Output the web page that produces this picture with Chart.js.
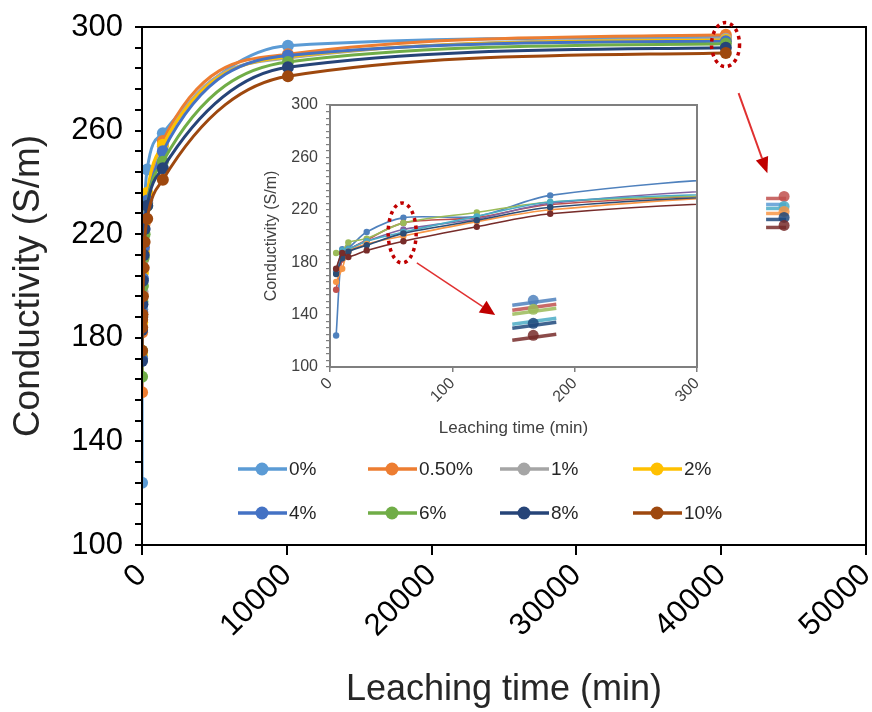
<!DOCTYPE html>
<html>
<head>
<meta charset="utf-8">
<script src="https://cdn.jsdelivr.net/npm/chart.js@4.4.1/dist/chart.umd.min.js"></script>
<style>
  html, body { margin: 0; padding: 0; background: #fff; }
  #wrap { position: relative; width: 872px; height: 712px; }
  #main { position: absolute; left: 0; top: 0; }
  #inset { position: absolute; left: 250px; top: 90px; }
</style>
</head>
<body>
<div id="wrap">
  <canvas id="main" width="872" height="712"></canvas>
  <canvas id="inset" width="460" height="355"></canvas>
</div>
<script>
// leaching time (min) and conductivity (S/m) per additive dose
var times = [5, 10, 15, 30, 60, 120, 180, 360, 1440, 10080, 40320];
var labels = ['0%', '0.50%', '1%', '2%', '4%', '6%', '8%', '10%'];
var s0   = [124, 190, 191, 203, 214, 215, 231, 245, 259, 292.8, 296];
var s05  = [159, 182, 189, 197, 210, 214, 224, 232, 256, 289.5, 297];
var s1   = [187, 188, 195, 198, 210, 218, 226, 232, 254, 288, 295.5];
var s2   = [173, 186, 190, 196, 205, 213, 225, 236, 254.5, 288.5, 295];
var s4   = [172, 189, 190, 196, 203, 215, 226, 233, 252, 289, 294.5];
var s6   = [165, 175, 188, 194, 200, 211, 220, 231, 248, 286.5, 293.5];
var s8   = [171, 183, 188, 193, 202, 212, 222, 231, 245.5, 284.5, 292];
var s10  = [175, 187, 184, 189, 196, 207, 217, 226, 241, 281, 290];
var allSeries = [s0, s05, s1, s2, s4, s6, s8, s10];

var mainColors  = ['#5B9BD5', '#ED7D31', '#A5A5A5', '#FFC000', '#4472C4', '#70AD47', '#264478', '#9E480E'];
var insetColors = ['#4F81BD', '#C0504D', '#9BBB59', '#8064A2', '#4BACC6', '#F79646', '#2C4D75', '#772C2A'];

var FONT = 'Liberation Sans, Arial, sans-serif';

function makeSets(colors, lw, r, tension, mode) {
  return allSeries.map(function(vals, k) {
    return {
      label: labels[k],
      data: times.map(function(t, i) { return {x: t, y: vals[i]}; }),
      borderColor: colors[k],
      backgroundColor: colors[k],
      pointBackgroundColor: colors[k],
      pointBorderWidth: 0,
      pointRadius: r,
      borderWidth: lw,
      tension: tension,
      cubicInterpolationMode: mode,
      order: 7 - k
    };
  });
}

function arrow(ctx, x1, y1, x2, y2, lineCol, headCol, lw, hl, hw) {
  var dx = x2 - x1, dy = y2 - y1, len = Math.sqrt(dx * dx + dy * dy);
  var ux = dx / len, uy = dy / len;
  var bx = x2 - ux * hl, by = y2 - uy * hl;
  ctx.save();
  ctx.strokeStyle = lineCol; ctx.lineWidth = lw;
  ctx.beginPath(); ctx.moveTo(x1, y1); ctx.lineTo(bx, by); ctx.stroke();
  ctx.fillStyle = headCol;
  ctx.beginPath();
  ctx.moveTo(x2, y2);
  ctx.lineTo(bx - uy * hw / 2, by + ux * hw / 2);
  ctx.lineTo(bx + uy * hw / 2, by - ux * hw / 2);
  ctx.closePath(); ctx.fill();
  ctx.restore();
}

function dottedEllipse(ctx, cx, cy, rx, ry) {
  ctx.save();
  ctx.strokeStyle = '#C00000'; ctx.lineWidth = 3.5;
  ctx.setLineDash([3.5, 4]);
  ctx.beginPath(); ctx.ellipse(cx, cy, rx, ry, 0, 0, Math.PI * 2); ctx.stroke();
  ctx.restore();
}

// small "magnified" snapshot: stubs of line + marker
function magnifier(ctx, x, y, rows, w, slope) {
  ctx.save();
  ctx.globalAlpha = 0.85;
  rows.forEach(function(r) {
    ctx.strokeStyle = r[0]; ctx.lineWidth = 3.5;
    ctx.beginPath(); ctx.moveTo(x, y + r[1] + slope); ctx.lineTo(x + w, y + r[1] - slope); ctx.stroke();
    if (r[2]) {
      ctx.fillStyle = r[0];
      ctx.beginPath(); ctx.arc(x + r[2], y + r[1] - 2, 5.5, 0, Math.PI * 2); ctx.fill();
    }
  });
  ctx.restore();
}

var mainDeco = {
  id: 'mainDeco',
  afterDatasetsDraw: function(chart) {
    var ctx = chart.ctx, a = chart.chartArea, xs = chart.scales.x, ys = chart.scales.y;
    ctx.save();
    ctx.strokeStyle = '#000'; ctx.lineWidth = 2;
    ctx.strokeRect(a.left, a.top, a.right - a.left, a.bottom - a.top);
    ctx.restore();

    dottedEllipse(ctx, xs.getPixelForValue(40300), ys.getPixelForValue(293.2), 14, 22);
    arrow(ctx, xs.getPixelForValue(41200), ys.getPixelForValue(274.5),
          xs.getPixelForValue(43190), ys.getPixelForValue(243.5), '#E03030', '#C00000', 2, 16, 13);
    magnifier(ctx, xs.getPixelForValue(43100), ys.getPixelForValue(236.5), [
      ['#C0504D', 7, 18], ['#5B9BD5', 13, 0], ['#4BACC6', 17, 18], ['#F79646', 22, 18],
      ['#1F497D', 28, 18], ['#772C2A', 36, 18]
    ], 20, 0);

    // legend, 2 rows x 4 columns
    var colX = [238, 368, 500, 633], rowY = [469, 513];
    ctx.save();
    ctx.font = '19px ' + FONT;
    ctx.textBaseline = 'middle';
    labels.forEach(function(lab, k) {
      var x = colX[k % 4], y = rowY[Math.floor(k / 4)];
      ctx.strokeStyle = mainColors[k]; ctx.lineWidth = 3.5;
      ctx.beginPath(); ctx.moveTo(x, y); ctx.lineTo(x + 49, y); ctx.stroke();
      ctx.fillStyle = mainColors[k];
      ctx.beginPath(); ctx.arc(x + 24, y, 6.5, 0, Math.PI * 2); ctx.fill();
      ctx.fillStyle = '#262626';
      ctx.fillText(lab, x + 51, y + 1);
    });
    ctx.restore();
  }
};

var insetDeco = {
  id: 'insetDeco',
  afterDatasetsDraw: function(chart) {
    var ctx = chart.ctx, a = chart.chartArea, xs = chart.scales.x, ys = chart.scales.y;
    ctx.save();
    ctx.strokeStyle = '#7F7F7F'; ctx.lineWidth = 2;
    ctx.strokeRect(a.left, a.top, a.right - a.left, a.bottom - a.top);
    ctx.restore();

    dottedEllipse(ctx, xs.getPixelForValue(59), ys.getPixelForValue(202.3), 14, 30);
    arrow(ctx, xs.getPixelForValue(71), ys.getPixelForValue(179.4),
          xs.getPixelForValue(135), ys.getPixelForValue(139.7), '#E03030', '#C00000', 1.5, 15, 14);
    magnifier(ctx, xs.getPixelForValue(149), ys.getPixelForValue(157), [
      ['#4F81BD', 10, 21], ['#C0504D', 15, 0], ['#9BBB59', 19, 21],
      ['#4BACC6', 29, 0], ['#1F497D', 33, 21], ['#772C2A', 45, 21]
    ], 44, 3);
  }
};

function plainTick(v) { return String(v); }

var mainConfig = {
  type: 'line',
  data: { datasets: makeSets(mainColors, 3, 6, 0.4, 'monotone') },
  options: {
    responsive: false,
    animation: false,
    devicePixelRatio: 1,
    layout: { padding: { left: 0, right: 5, top: 27, bottom: 0 } },
    plugins: { legend: { display: false }, tooltip: { enabled: false } },
    scales: {
      x: {
        type: 'linear', min: 0, max: 50000,
        afterFit: function(s) { s.height = 167; s.paddingLeft = 0; s.paddingRight = 0; },
        ticks: { stepSize: 10000, minRotation: 45, maxRotation: 45, color: '#000', padding: 2,
                 font: { family: FONT, size: 31 }, callback: plainTick },
        grid: { drawOnChartArea: false, drawTicks: true, tickLength: 10, color: '#000', lineWidth: 2 },
        border: { color: '#000', width: 2 },
        title: { display: true, text: 'Leaching time (min)', color: '#262626',
                 font: { family: FONT, size: 36 }, padding: { top: 0, bottom: 0 } }
      },
      y: {
        type: 'linear', min: 100, max: 300,
        afterFit: function(s) { s.width = 142; s.paddingTop = 0; s.paddingBottom = 0; },
        ticks: { stepSize: 8, autoSkip: false, color: '#000', padding: 12,
                 font: { family: FONT, size: 31 },
                 callback: function(v) { return (v - 100) % 40 === 0 ? String(v) : ''; } },
        grid: { drawOnChartArea: false, drawTicks: true, tickLength: 7, color: '#000', lineWidth: 2 },
        border: { color: '#000', width: 2 },
        title: { display: true, text: 'Conductivity (S/m)', color: '#262626',
                 font: { family: FONT, size: 37 }, padding: { top: 7, bottom: 0 } }
      }
    }
  },
  plugins: [mainDeco]
};

var insetConfig = {
  type: 'line',
  data: { datasets: makeSets(insetColors, 1.6, 3.2, 0.3, 'default') },
  options: {
    responsive: false,
    animation: false,
    devicePixelRatio: 1,
    layout: { padding: { left: 0, right: 13, top: 15, bottom: 0 } },
    plugins: { legend: { display: false }, tooltip: { enabled: false } },
    scales: {
      x: {
        type: 'linear', min: 0, max: 300,
        afterFit: function(s) { s.height = 78; s.paddingLeft = 0; s.paddingRight = 0; },
        ticks: { stepSize: 100, minRotation: 45, maxRotation: 45, color: '#404040', padding: 2,
                 font: { family: FONT, size: 16 }, callback: plainTick },
        grid: { drawOnChartArea: false, drawTicks: true, tickLength: 5, color: '#7F7F7F', lineWidth: 1.5 },
        border: { color: '#7F7F7F', width: 1.5 },
        title: { display: true, text: 'Leaching time (min)', color: '#404040',
                 font: { family: FONT, size: 17 }, padding: { top: 0, bottom: 6 } }
      },
      y: {
        type: 'linear', min: 100, max: 300,
        afterFit: function(s) { s.width = 80; s.paddingTop = 0; s.paddingBottom = 0; },
        ticks: { stepSize: 5, autoSkip: false, color: '#404040', padding: 8,
                 font: { family: FONT, size: 16 },
                 callback: function(v) { return (v - 100) % 40 === 0 ? String(v) : ''; } },
        grid: { drawOnChartArea: false, drawTicks: true, tickLength: 4, color: '#7F7F7F', lineWidth: 1.2 },
        border: { color: '#7F7F7F', width: 1.5 },
        title: { display: true, text: 'Conductivity (S/m)', color: '#404040',
                 font: { family: FONT, size: 16 }, padding: { top: 12, bottom: 0 } }
      }
    }
  },
  plugins: [insetDeco]
};

window.onload = function() {
  window.mainChart = new Chart(document.getElementById('main').getContext('2d'), mainConfig);
  window.insetChart = new Chart(document.getElementById('inset').getContext('2d'), insetConfig);
};
</script>
</body>
</html>
